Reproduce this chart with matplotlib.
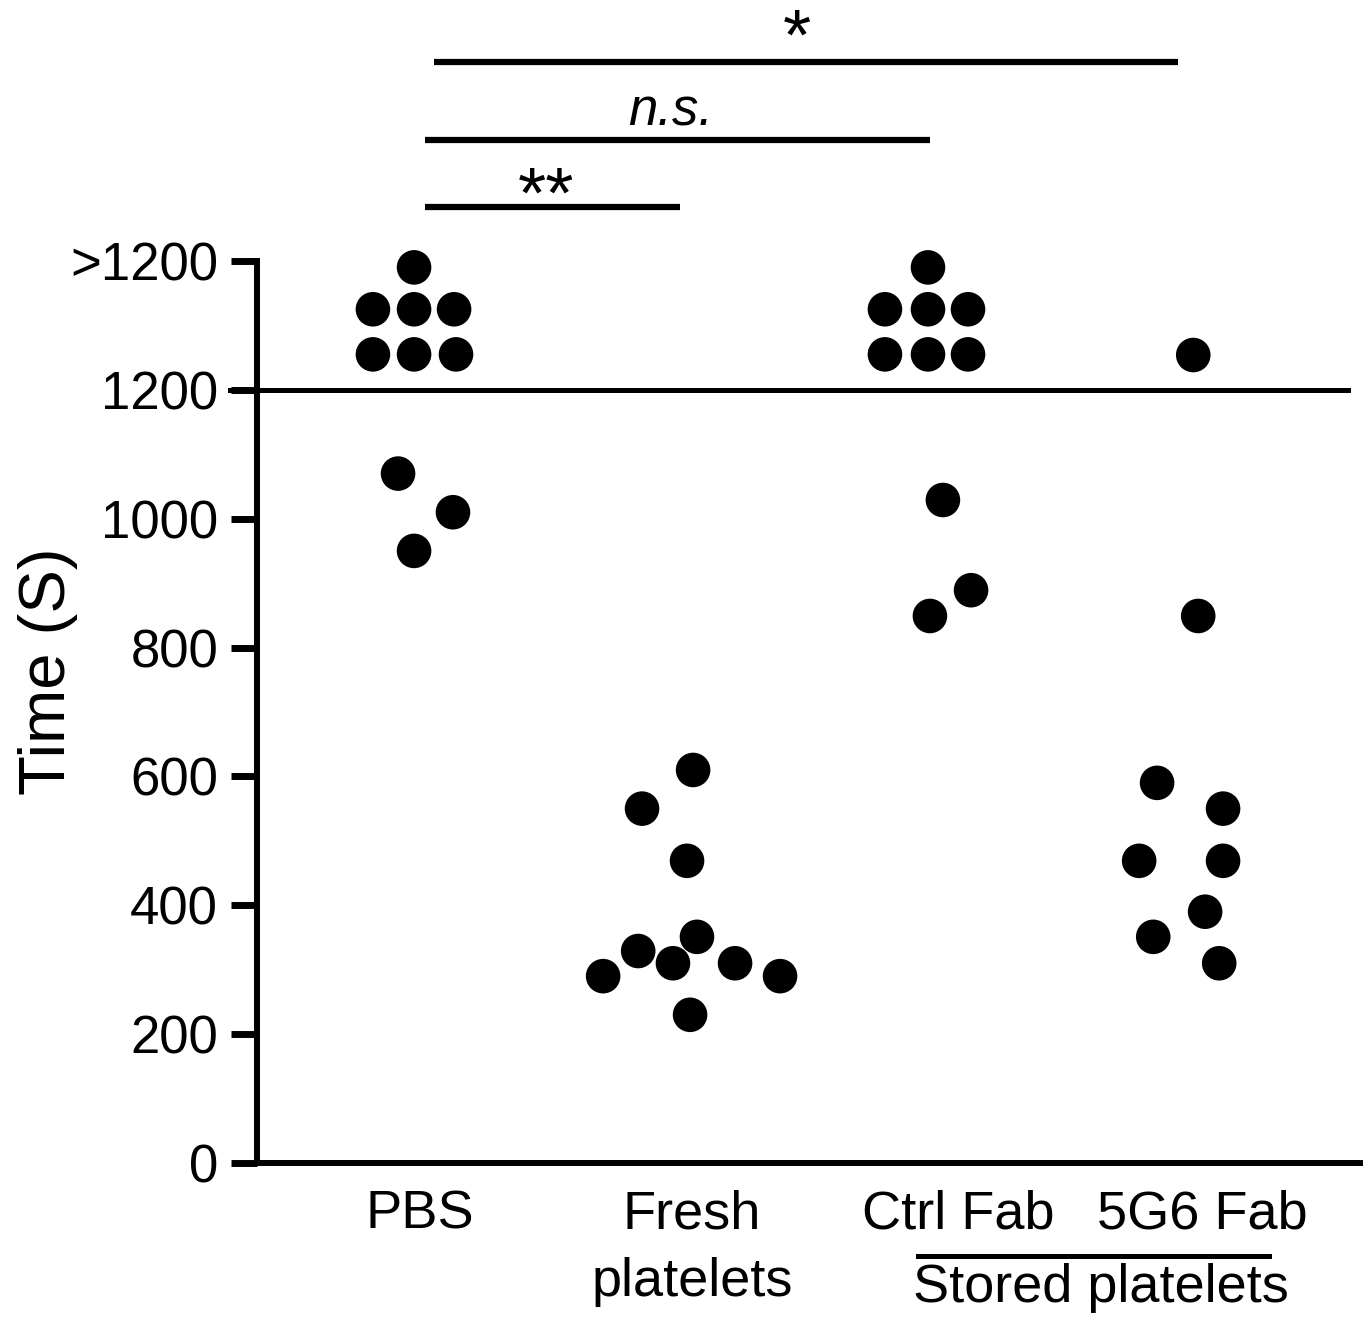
import numpy as np
import matplotlib
matplotlib.use("Agg")
import matplotlib.pyplot as plt
import matplotlib.transforms as mtransforms

plt.rcParams['font.family'] = ['Liberation Sans', 'DejaVu Sans']

# groupes et positions (x) des colonnes
groups = ['PBS', 'Fresh\nplatelets', 'Ctrl Fab', '5G6 Fab']
centers = [1.0, 2.0, 2.862, 3.837]
label_x = [1.022, 2.007, 2.971, 3.855]

# temps (s) ; les points au-dessus de 1200 sont les ">1200"
pbs_y = [1390, 1325, 1325, 1325, 1255, 1255, 1255, 1070, 1010, 950]
pbs_dx = [0, -0.149, 0, 0.145, -0.149, 0, 0.152, -0.058, 0.141, 0]

fresh_y = [610, 550, 469, 351, 329, 310, 310, 290, 290, 230]
fresh_dx = [0.011, -0.174, -0.011, 0.025, -0.188, -0.062, 0.163, -0.315, 0.326, 0]

ctrl_y = [1390, 1325, 1325, 1325, 1255, 1255, 1255, 1029, 889, 849]
ctrl_dx = [0, -0.156, 0, 0.145, -0.156, 0, 0.145, 0.054, 0.156, 0.007]

g56_y = [1254, 849, 590, 550, 469, 469, 390, 351, 310]
g56_dx = [-0.014, 0.004, -0.145, 0.094, -0.21, 0.094, 0.029, -0.159, 0.08]

yticks = [0, 200, 400, 600, 800, 1000, 1200, 1400]
yticklabels = ['0', '200', '400', '600', '800', '1000', '1200', '>1200']

# barres de significativite : (x debut, x fin, y, texte)
sig_bars = [(1.040, 1.964, 1484, '**'), (1.040, 2.870, 1588, 'n.s.'), (1.072, 3.768, 1708, '*')]
sig_text = [(1.478, 1468), (1.928, 1610), (2.388, 1712)]

fig = plt.figure(figsize=(13.63, 13.19), dpi=100)
ax = fig.add_axes([257 / 1363, 1 - 1163 / 1319, 1 - 257 / 1363, 1163 / 1319])

all_y = [pbs_y, fresh_y, ctrl_y, g56_y]
all_dx = [pbs_dx, fresh_dx, ctrl_dx, g56_dx]
for c, ys, dxs in zip(centers, all_y, all_dx):
    ax.scatter(c + np.array(dxs), ys, s=620, color='black', edgecolors='none', zorder=3)

ax.set_xlim(0.431, 4.438)
ax.set_ylim(0, 1805)

for s in ['top', 'right']:
    ax.spines[s].set_visible(False)
ax.spines['left'].set_linewidth(4.3)
ax.spines['bottom'].set_linewidth(4.3)
ax.spines['left'].set_bounds(0, 1400)

ax.set_yticks(yticks)
ax.set_yticklabels(yticklabels)
ax.tick_params(axis='y', length=19, width=5, labelsize=38, pad=9)
ax.set_xticks(label_x)
ax.set_xticklabels(groups)
ax.tick_params(axis='x', length=0, labelsize=39, pad=19)
for lbl in ax.get_xticklabels():
    lbl.set_linespacing(1.45)

# ligne 1200
ax.plot([0.333, 4.384], [1200, 1200], color='black', lw=3.6, clip_on=False, zorder=2)

for (x0, x1, y, t), (tx, ty) in zip(sig_bars, sig_text):
    ax.plot([x0, x1], [y, y], color='black', lw=4.5, solid_capstyle='butt', clip_on=False)
    if t == 'n.s.':
        ax.text(tx, ty, t, ha='center', va='baseline', fontsize=38, style='italic')
    else:
        ax.text(tx, ty, t, ha='center', va='baseline', fontsize=52)

trans = mtransforms.blended_transform_factory(ax.transData, ax.transAxes)
ax.plot([2.826, 4.098], [-0.080, -0.080], color='black', lw=3.6, transform=trans, clip_on=False)
ax.text(3.489, -0.1195, 'Stored platelets', ha='center', va='baseline', fontsize=39, transform=trans)

fig.text(48 / 1363, 1 - 671 / 1319, 'Time (S)', rotation=90, ha='center', va='center', fontsize=47)

fig.savefig('out.png', dpi=100)
